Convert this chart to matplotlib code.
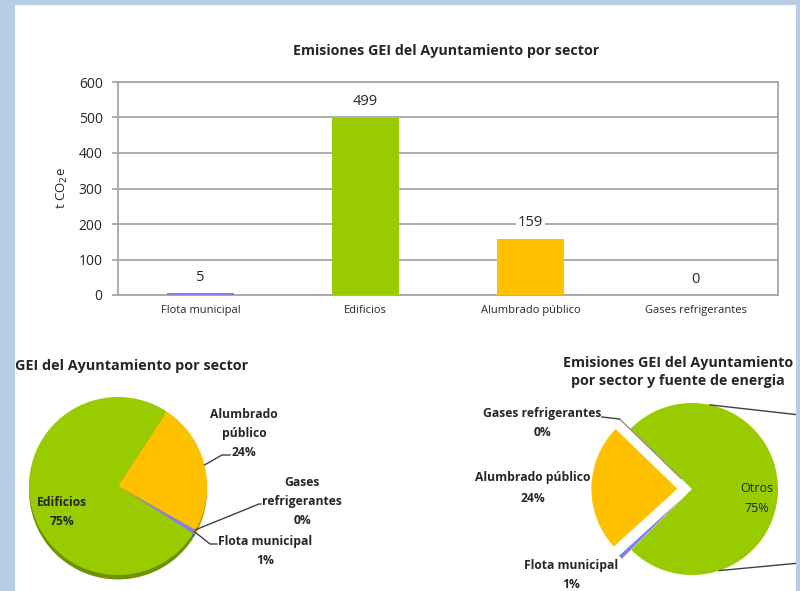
import numpy as np
import matplotlib
matplotlib.use("Agg")
import matplotlib.pyplot as plt
import matplotlib.transforms as mtransforms
from matplotlib.patches import Rectangle

# datos: emisiones GEI del Ayuntamiento por sector (t CO2e)
sectores = ["Flota municipal", "Edificios", "Alumbrado público", "Gases refrigerantes"]
emisiones = [5, 499, 159, 0]
colores = ["#7f7ff0", "#99cc00", "#ffc000", "#d9d9d9"]
colores_sombra = ["#5a5ab0", "#6f9200", "#c99400", "#a0a0a0"]
y_ticks = [0, 100, 200, 300, 400, 500, 600]

# grafico de sectores con "Otros" (= Edificios) en la tarta principal
pie2_nombres = ["Otros", "Gases refrigerantes", "Alumbrado público", "Flota municipal"]
pie2_valores = [499, 0, 159, 5]
pie2_colores = ["#99cc00", "#ffffff", "#ffc000", "#7f7ff0"]

W, H = 800, 591
plt.rcParams["font.family"] = ["Open Sans", "DejaVu Sans"]
TXT = "#262626"

fig = plt.figure(figsize=(W / 100, H / 100), dpi=100, facecolor="#b8cce4")
# coordenadas en pixeles desde arriba a la izquierda
px = mtransforms.Affine2D().scale(1 / W, -1 / H).translate(0, 1) + fig.transFigure


def caja(x0, y0, x1, y1):
    return [x0 / W, 1 - y1 / H, (x1 - x0) / W, (y1 - y0) / H]


def a_px(ax, x, y):
    return px.inverted().transform(ax.transData.transform((x, y)))


fig.add_artist(Rectangle((15, 5), 781, 600, transform=px, facecolor="white",
                         edgecolor="none", zorder=-5))

# ---------------- barras ----------------
ax = fig.add_axes(caja(118, 82, 778, 295))
xpos = np.arange(len(sectores))
ax.bar(xpos, emisiones, width=0.41, color=colores, zorder=3)
ax.set_xlim(-0.5, len(sectores) - 0.5)
ax.set_ylim(y_ticks[0], y_ticks[-1])
ax.set_yticks(y_ticks)
ax.set_xticks(xpos)
ax.set_xticklabels(sectores, fontsize=8, color=TXT)
ax.tick_params(axis="x", length=0, pad=7)
ax.tick_params(axis="y", length=4, width=1.2, color="#a0a0a0", labelsize=10,
               labelcolor=TXT, pad=7)
ax.grid(axis="y", color="#a6a6a6", linewidth=1.3, zorder=0)
for s in ax.spines.values():
    s.set_color("#a6a6a6")
    s.set_linewidth(1.3)
for xi, v in zip(xpos, emisiones):
    ax.annotate(str(v), (xi, v), xytext=(0, 11.5), textcoords="offset points",
                ha="center", va="center", fontsize=10.5, color=TXT, zorder=5,
                bbox=dict(facecolor="white", edgecolor="none", pad=1.5))
ax.set_ylabel("t CO$_2$e", fontsize=9.5, color=TXT, labelpad=6)
fig.text(446, 51, "Emisiones GEI del Ayuntamiento por sector", transform=px,
         ha="center", va="center", fontsize=10.3, fontweight="bold", color=TXT)

total = sum(emisiones)
pct = [f"{v / total:.0%}" for v in emisiones]

# ---------------- tarta 1 ----------------
R1 = 89
ax1 = fig.add_axes(caja(18, 386, 218, 586))
ax1.pie(emisiones, colors=colores_sombra, startangle=-29.5, counterclock=False,
        center=(0, -0.05), wedgeprops=dict(linewidth=0))
w1, _ = ax1.pie(emisiones, colors=colores, startangle=-29.5, counterclock=False,
                wedgeprops=dict(linewidth=0))
ax1.set_xlim(-100 / R1, 100 / R1)
ax1.set_ylim(-100 / R1, 100 / R1)
ax1.set_aspect("equal")
ax1.axis("off")

fig.text(15, 366, "GEI del Ayuntamiento por sector", transform=px, ha="left",
         va="center", fontsize=10.4, fontweight="bold", color=TXT)

lab = dict(transform=px, ha="center", va="center", fontsize=8.7,
           fontweight="bold", color=TXT, linespacing=1.6)
fig.text(62, 512, f"Edificios\n{pct[1]}", **lab)
fig.text(244, 433, f"Alumbrado\npúblico\n{pct[2]}", **lab)
fig.text(302, 502, f"Gases\nrefrigerantes\n{pct[3]}", **lab)
fig.text(265, 551, f"Flota municipal\n{pct[0]}", **lab)


def borde(ax, w, r=1.0):
    t = np.deg2rad((w.theta1 + w.theta2) / 2)
    return a_px(ax, w.center[0] + r * np.cos(t), w.center[1] + r * np.sin(t))


guias1 = [(w1[2], [(222, 455), (230, 455)]),
          (w1[3], [(259, 504), (261, 504)]),
          (w1[0], [(210, 544), (217, 544)])]
for w, pts in guias1:
    p0 = borde(ax1, w)
    xs = [p0[0]] + [p[0] for p in pts]
    ys = [p0[1]] + [p[1] for p in pts]
    fig.add_artist(plt.Line2D(xs, ys, transform=px, color="#404040", lw=1.0))

# ---------------- tarta 2 ----------------
R2 = 86
ax2 = fig.add_axes(caja(592, 389, 792, 589))
w2, _ = ax2.pie(pie2_valores, colors=pie2_colores, startangle=-135,
                explode=[0, 0.17, 0.17, 0.15], wedgeprops=dict(linewidth=0))
w2[1].set_edgecolor("#9a8f86")
w2[1].set_linewidth(1.0)
ax2.set_xlim(-100 / R2, 100 / R2)
ax2.set_ylim(-100 / R2, 100 / R2)
ax2.set_aspect("equal")
ax2.axis("off")

fig.text(678, 372, "Emisiones GEI del Ayuntamiento\npor sector y fuente de energia",
         transform=px, ha="center", va="center", fontsize=10.3, fontweight="bold",
         color=TXT, linespacing=1.45)
pct2 = [f"{v / sum(pie2_valores):.0%}" for v in pie2_valores]
lab2 = dict(lab, linespacing=1.7)
fig.text(542, 423, f"{pie2_nombres[1]}\n{pct2[1]}", **lab2)
fig.text(533, 488, f"{pie2_nombres[2]}\n{pct2[2]}", **lab2)
fig.text(571, 575, f"{pie2_nombres[3]}\n{pct2[3]}", **lab2)
fig.text(757, 499, f"{pie2_nombres[0]}\n{pct2[0]}", **dict(lab2, fontweight="normal",
                                                           fontsize=9))

# guia de gases refrigerantes
t = np.deg2rad(w2[1].theta1)
punta = a_px(ax2, w2[1].center[0] + np.cos(t), w2[1].center[1] + np.sin(t))
fig.add_artist(plt.Line2D([602, punta[0]], [417, punta[1]], transform=px,
                          color="#404040", lw=1.0))

# conectores hacia la segunda tarta (fuera del recorte)
for ang, yfin in [(78, 415), (-71.6, 563)]:
    a = np.deg2rad(ang)
    p = a_px(ax2, np.cos(a), np.sin(a))
    fig.add_artist(plt.Line2D([p[0], 800], [p[1], yfin], transform=px,
                              color="#404040", lw=1.0, zorder=1))

fig.add_artist(Rectangle((796, 0), 10, 600, transform=px, facecolor="#b8cce4",
                         edgecolor="none", zorder=10))

fig.savefig("out.png", dpi=100, facecolor=fig.get_facecolor())
